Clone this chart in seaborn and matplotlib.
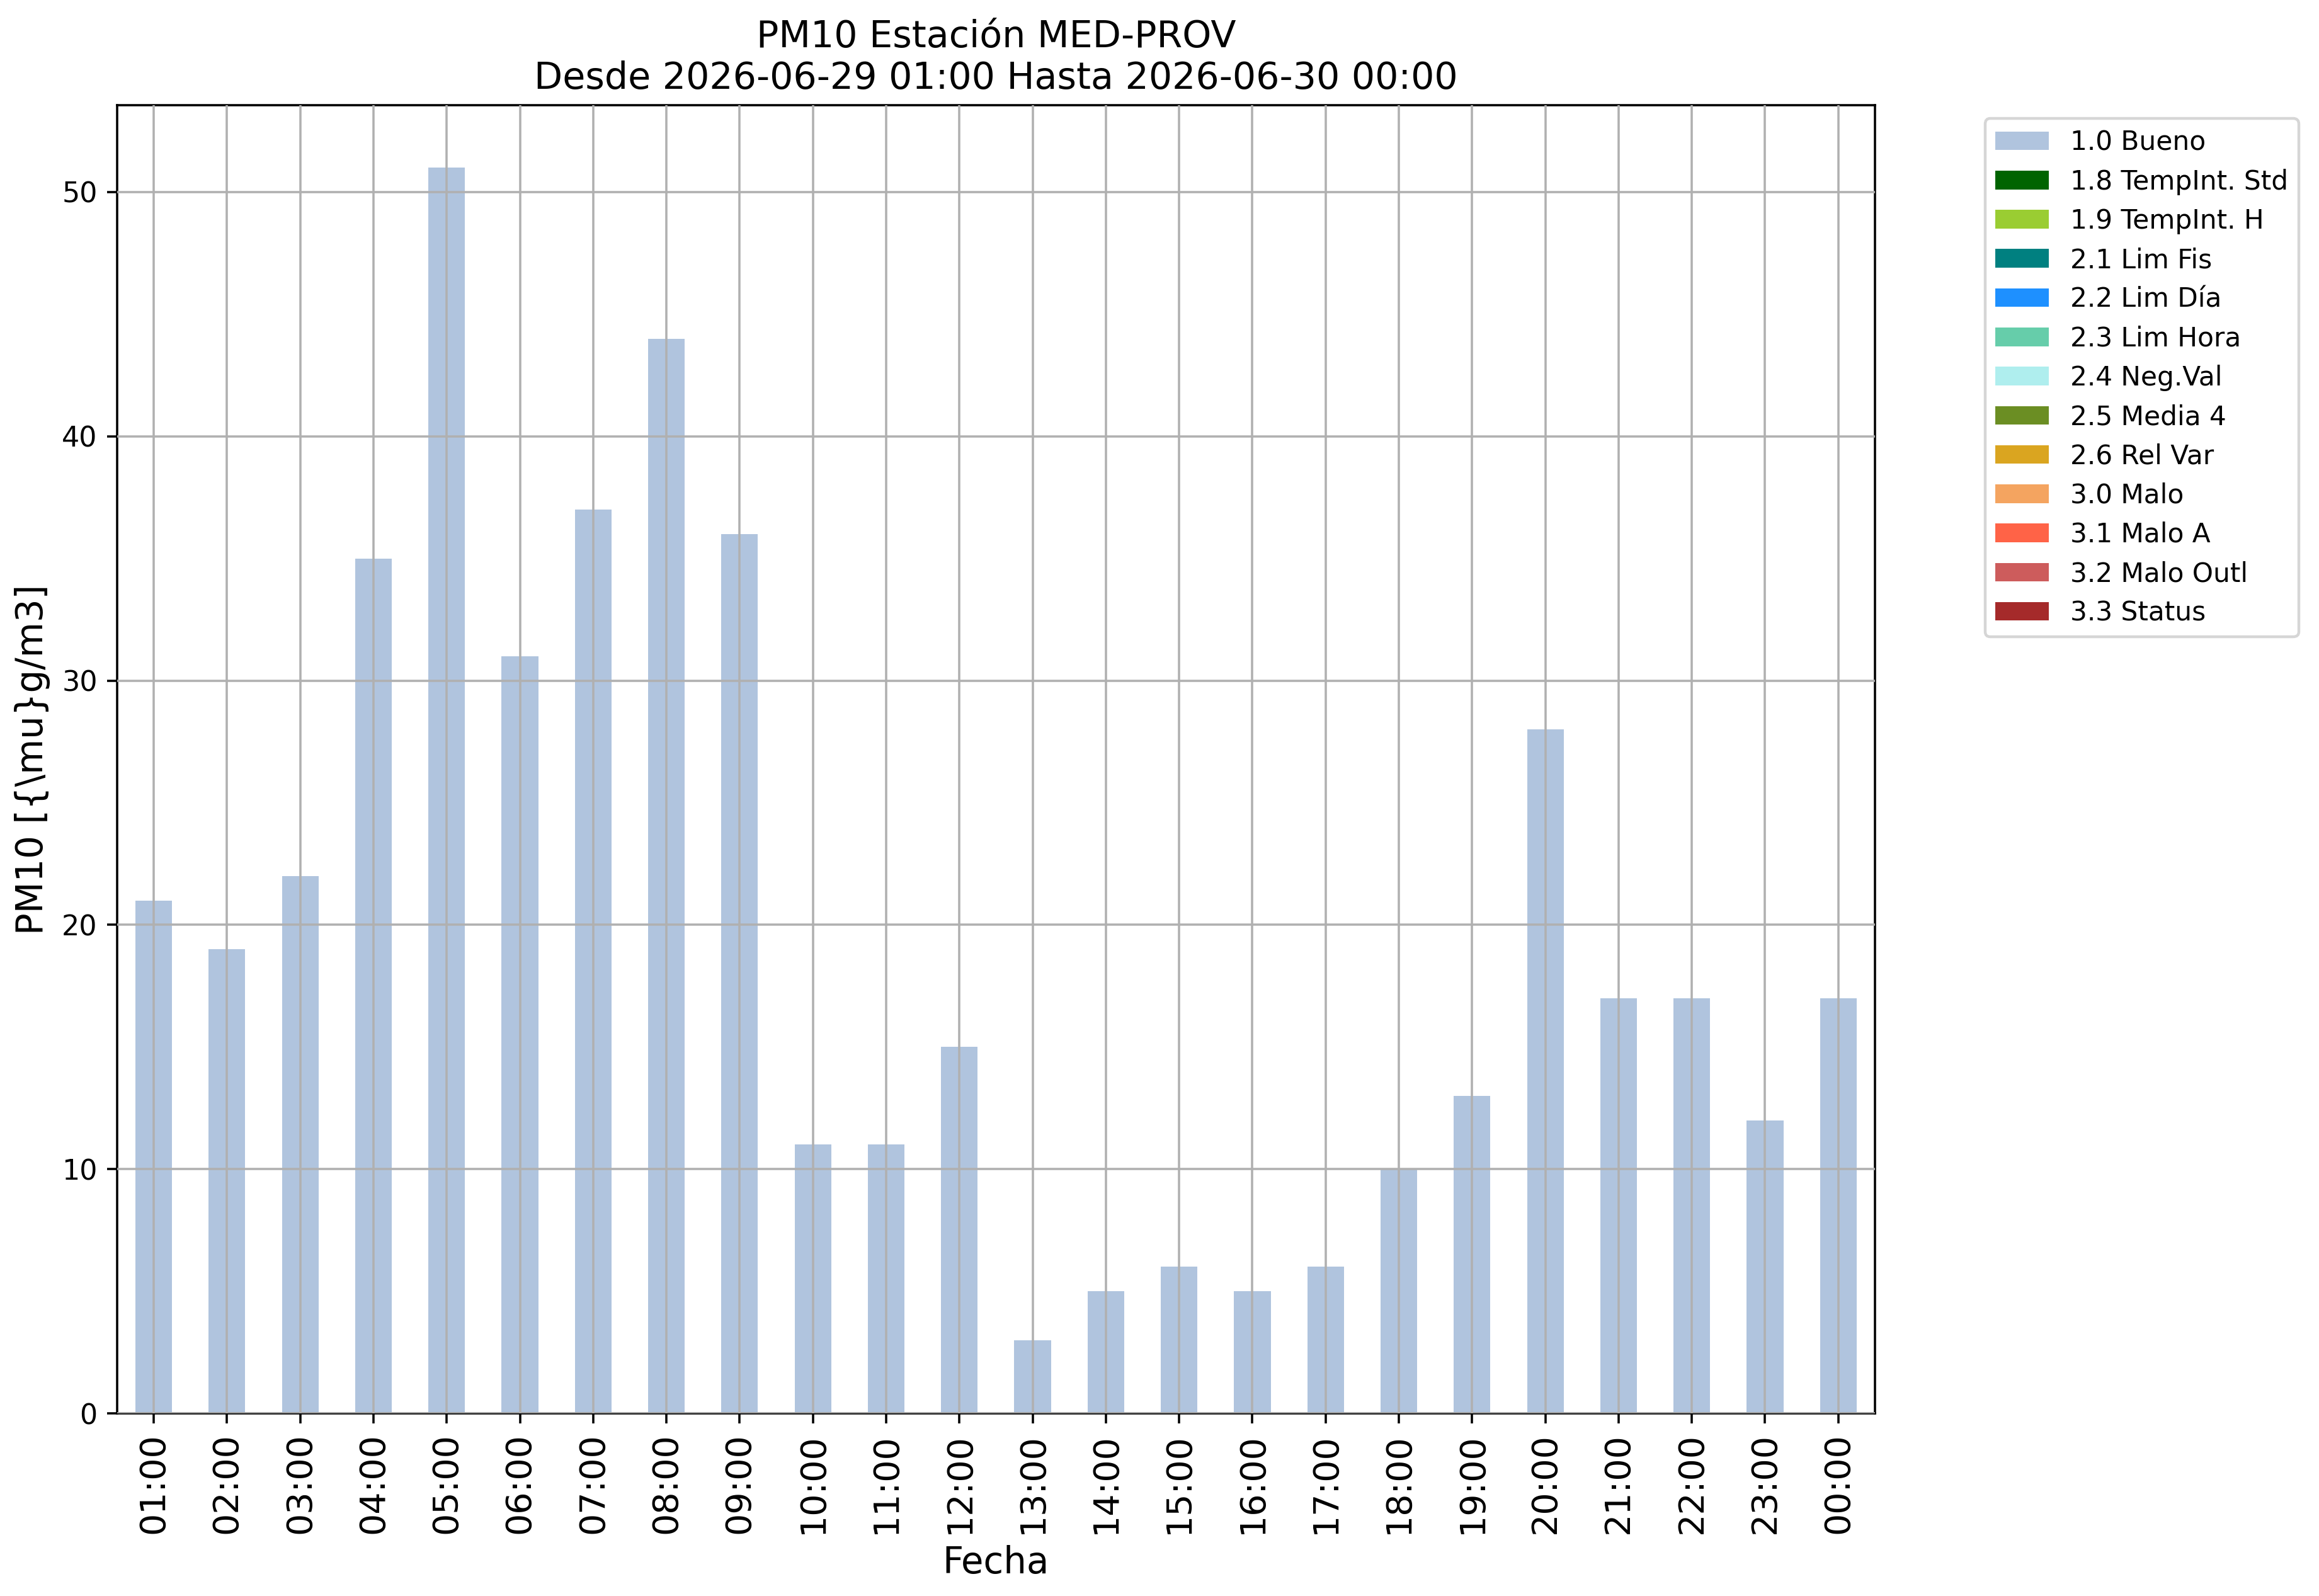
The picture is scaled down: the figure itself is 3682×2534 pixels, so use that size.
import matplotlib
matplotlib.use("Agg")
import matplotlib.pyplot as plt
import pandas as pd
import seaborn as sns

# datos PM10 por hora
horas = ['01:00', '02:00', '03:00', '04:00', '05:00', '06:00', '07:00', '08:00',
         '09:00', '10:00', '11:00', '12:00', '13:00', '14:00', '15:00', '16:00',
         '17:00', '18:00', '19:00', '20:00', '21:00', '22:00', '23:00', '00:00']
valores = [21, 19, 22, 35, 51, 31, 37, 44, 36, 11, 11, 15, 3, 5, 6, 5, 6, 10,
           13, 28, 17, 17, 12, 17]

# banderas de calidad y sus colores
banderas = ['1.0 Bueno', '1.8 TempInt. Std', '1.9 TempInt. H', '2.1 Lim Fis',
            '2.2 Lim Día', '2.3 Lim Hora', '2.4 Neg.Val', '2.5 Media 4',
            '2.6 Rel Var', '3.0 Malo', '3.1 Malo A', '3.2 Malo Outl', '3.3 Status']
colores = ['lightsteelblue', 'darkgreen', 'yellowgreen', 'teal', 'dodgerblue',
           'mediumaquamarine', 'paleturquoise', 'olivedrab', 'goldenrod',
           'sandybrown', 'tomato', 'indianred', 'brown']

# todas las horas tienen bandera 1.0, el resto queda en cero
filas = []
for h, v in zip(horas, valores):
    for b in banderas:
        filas.append({'Fecha': h, 'flag': b, 'PM10': v if b == '1.0 Bueno' else 0})
df = pd.DataFrame(filas)

fig = plt.figure(figsize=(3682 / 320, 2534 / 320), dpi=320)
ax = fig.add_subplot(111)
fig.subplots_adjust(left=0.0505, right=0.8085, top=0.934, bottom=0.1144)

sns.barplot(data=df, x='Fecha', y='PM10', hue='flag', hue_order=banderas,
            order=horas, palette=colores, dodge=False, width=0.5,
            saturation=1, errorbar=None, linewidth=0, ax=ax)

ax.set_xlim(-0.5, len(horas) - 0.5)
ax.set_ylim(0, max(valores) * 1.05)
ax.grid(True, color='#b0b0b0', linewidth=0.8)
ax.set_axisbelow(False)

ax.tick_params(axis='x', labelsize=12.5, labelrotation=90)
ax.tick_params(axis='y', labelsize=10)
ax.set_xlabel('Fecha', fontsize=13)
ax.set_ylabel('PM10 [{\\mu}g/m3]', fontsize=13)
ax.set_title('PM10 Estación MED-PROV\nDesde 2026-06-29 01:00 Hasta 2026-06-30 00:00',
             fontsize=13.2)

handles, labels = ax.get_legend_handles_labels()
ax.legend(handles, labels, bbox_to_anchor=(1.055, 1), loc='upper left',
          fontsize=9.5, labelspacing=0.48)

fig.savefig('out.png', dpi=320)
